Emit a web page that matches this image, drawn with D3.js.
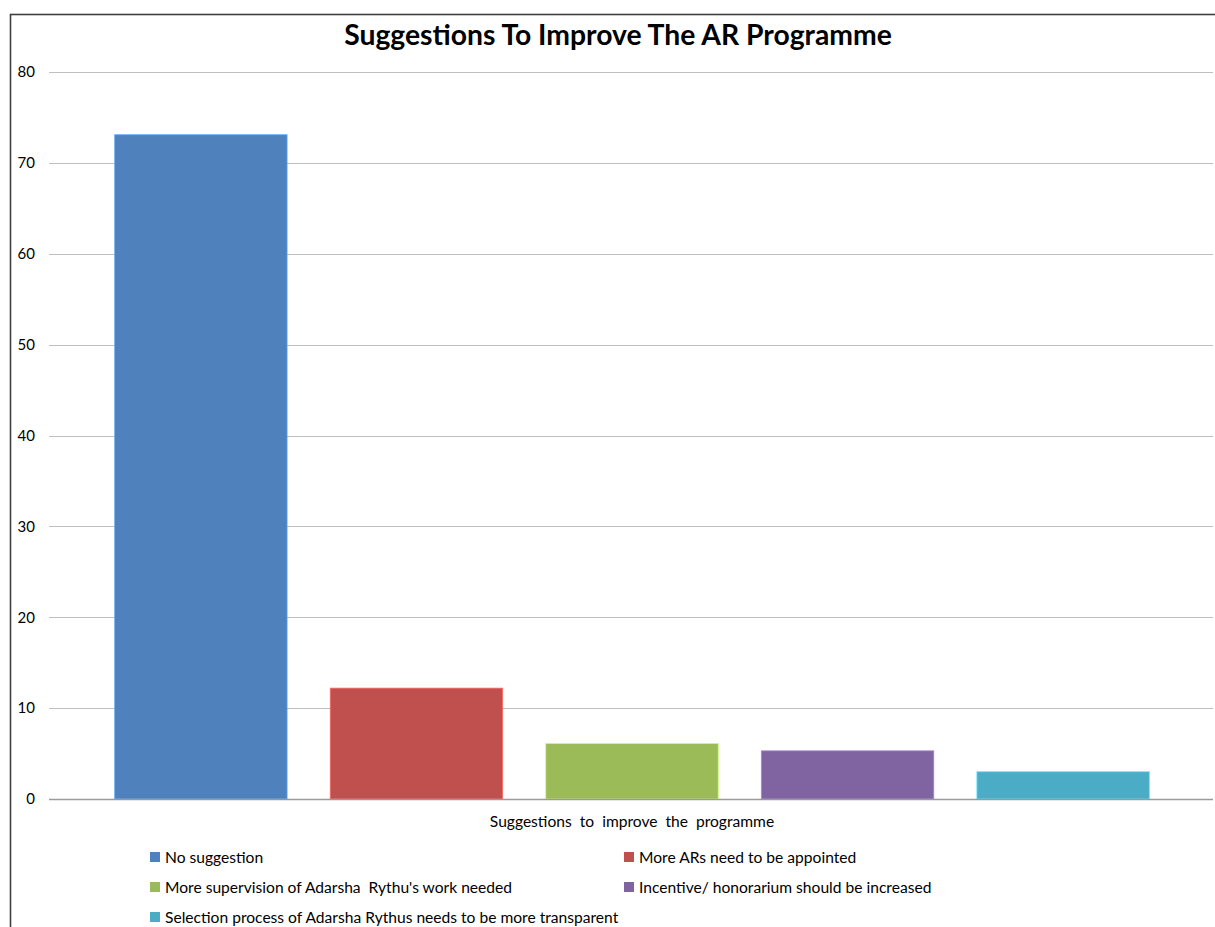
<!DOCTYPE html>
<html>
<head>
<meta charset="utf-8">
<script src="https://cdn.jsdelivr.net/npm/d3@7"></script>
<style>
  html, body { margin: 0; padding: 0; background: #fff; }
  svg { display: block; }
  text { font-family: Lato, "Open Sans", sans-serif; fill: #000; }
</style>
</head>
<body>
<svg id="chart" width="1215" height="927"></svg>
<script>
// Chart data
const chartTitle = "Suggestions To Improve The AR Programme";
const categoryLabel = "Suggestions  to  improve  the  programme";
const seriesNames = [
  "No suggestion",
  "More ARs need to be appointed",
  "More supervision of Adarsha  Rythu's work needed",
  "Incentive/ honorarium should be increased",
  "Selection process of Adarsha Rythus needs to be more transparent"
];
const seriesValues = [73.1, 12.2, 6.1, 5.3, 3.0];
const seriesColors = ["#4F81BD", "#C0504D", "#9BBB59", "#8064A2", "#4BACC6"];
const yTicks = [0, 10, 20, 30, 40, 50, 60, 70, 80];

const svg = d3.select("#chart");
const W = 1215, H = 927;

// Outer chart frame (extends past the right/bottom edges)
svg.append("rect")
  .attr("x", 10.5).attr("y", 14.5)
  .attr("width", W + 20).attr("height", H + 20)
  .attr("fill", "#fff")
  .attr("stroke", "#404040")
  .attr("stroke-width", 1.6);

const plot = { left: 49, right: 1213, top: 72, bottom: 799 };

const y = d3.scaleLinear().domain([0, 80]).range([plot.bottom, plot.top]);
const x = d3.scaleBand()
  .domain(seriesNames)
  .range([plot.left + 1, plot.right + 1])
  .paddingInner(0.2)
  .paddingOuter(0.3);

// Gridlines
svg.append("g")
  .selectAll("line")
  .data(yTicks.filter(t => t !== 0))
  .join("line")
  .attr("x1", plot.left).attr("x2", plot.right)
  .attr("y1", d => Math.round(y(d)) + 0.5)
  .attr("y2", d => Math.round(y(d)) + 0.5)
  .attr("stroke", "#bfbfbf")
  .attr("stroke-width", 1);

// Y axis tick labels
const yAxis = d3.axisLeft(y).tickValues(yTicks).tickSize(0).tickPadding(0);
const gy = svg.append("g")
  .attr("transform", `translate(${plot.left - 14},0)`)
  .call(yAxis);
gy.select(".domain").remove();
gy.selectAll("text")
  .attr("font-family", "Lato, 'Open Sans', sans-serif")
  .attr("font-size", 15)
  .attr("fill", "#000");

// Bars
svg.append("g")
  .selectAll("rect")
  .data(seriesNames.map((n, i) => ({ name: n, value: seriesValues[i], color: seriesColors[i] })))
  .join("rect")
  .attr("x", d => x(d.name))
  .attr("y", d => y(d.value))
  .attr("width", x.bandwidth())
  .attr("height", d => y(0) - y(d.value))
  .attr("fill", d => d.color)
  .attr("stroke", d => d3.color(d.color).brighter(0.8))
  .attr("stroke-width", 0.8);

// Category axis baseline
svg.append("line")
  .attr("x1", plot.left).attr("x2", plot.right)
  .attr("y1", y(0) + 0.5).attr("y2", y(0) + 0.5)
  .attr("stroke", "#9a9a9a")
  .attr("stroke-width", 1.3);

// Category label
svg.append("text")
  .attr("x", 632)
  .attr("y", 827)
  .attr("text-anchor", "middle")
  .attr("font-size", 15.6)
  .style("white-space", "pre")
  .text(categoryLabel);

// Title
svg.append("text")
  .attr("x", 618)
  .attr("y", 45)
  .attr("text-anchor", "middle")
  .attr("font-size", 28.3)
  .attr("font-weight", "bold")
  .text(chartTitle);

// Legend: two columns, three rows
const legendCols = [150, 624];
const legendRows = [857, 887, 917];
const legend = svg.append("g")
  .selectAll("g")
  .data(seriesNames)
  .join("g")
  .attr("transform", (d, i) => `translate(${legendCols[i % 2]},${legendRows[Math.floor(i / 2)]})`);
legend.append("rect")
  .attr("x", 0).attr("y", -5)
  .attr("width", 10).attr("height", 10)
  .attr("fill", (d, i) => seriesColors[i]);
legend.append("text")
  .attr("x", 15)
  .attr("y", 5.5)
  .attr("font-size", 15.6)
  .style("white-space", "pre")
  .text(d => d);
</script>
</body>
</html>
